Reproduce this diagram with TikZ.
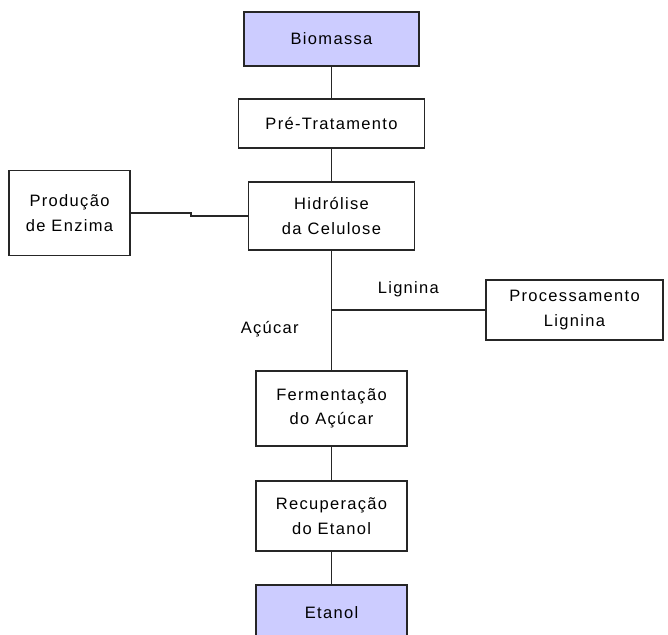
\documentclass[tikz,border=0pt]{standalone}
\usepackage{fontspec}
\newfontfamily\diagfont[LetterSpace=8]{Liberation Sans}
\definecolor{lilac}{RGB}{204,204,255}
\usetikzlibrary{positioning}
\tikzset{
  stage/.style={draw=black!85,line width=1.6pt,fill=white,%
    minimum width=151pt,minimum height=70pt,inner sep=2pt,align=center,%
    font=\diagfont\fontsize{16.5}{24.5}\selectfont},
  ends/.style={stage,fill=lilac},
  flow/.style={draw=black!85,line width=1.6pt},
  tag/.style={font=\diagfont\fontsize{16.5}{18}\selectfont,inner sep=1pt},
}

\begin{document}
\begin{tikzpicture}[x=1pt,y=-1pt,node distance=32.4pt]
\clip (0,0) rectangle (668,634);
\node[ends,minimum width=175pt,minimum height=54pt] (bio) at (331.5,39) {Biomassa};
\node[stage,below=31.4pt of bio,minimum width=186pt,minimum height=49pt] (pre) {Pré-Tratamento};
\node[stage,below=of pre,minimum width=166pt,minimum height=68pt] (hid) {Hidrólise\\da Celulose};
\node[stage,minimum width=121pt,minimum height=85pt] (enz) at (69.5,213) {Produção\\de Enzima};
\node[stage,below=119.4pt of hid,minimum height=75pt] (fer) {Fermentação\\do Açúcar};
\node[stage,below=33.4pt of fer] (rec) {Recuperação\\do Etanol};
\node[ends,below=of rec,minimum height=55pt] (eta) {Etanol};
\node[stage,minimum width=177pt,minimum height=60pt] (lig) at (574.5,310) {Processamento\\Lignina};
\coordinate (split) at (hid.south |- lig.west);
\draw[flow] (bio) -- (pre);
\draw[flow] (pre) -- (hid);
\draw[flow] (hid) -- (fer) node[pos=0.66,left=31pt,tag]{Açúcar};
\draw[flow] (fer) -- (rec);
\draw[flow] (rec) -- (eta);
\draw[flow] (enz.east) -- ++(60,0) |- (hid.west);
\draw[flow] (split) -- (lig.west) node[midway,above=11pt,tag]{Lignina};
\end{tikzpicture}
\end{document}
